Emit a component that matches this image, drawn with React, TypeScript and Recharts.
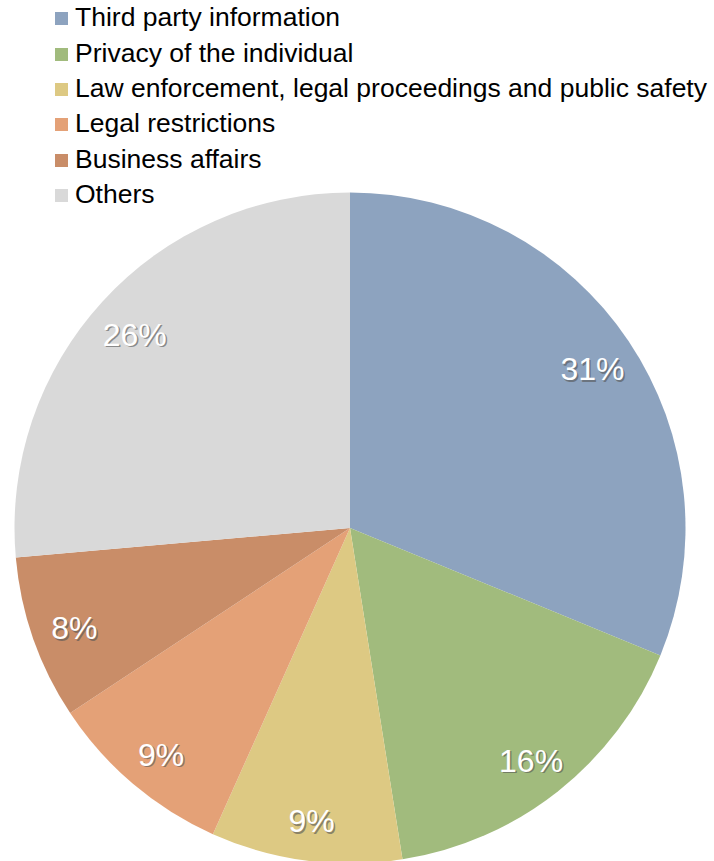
import { Cell, Pie, PieChart } from "recharts";

const categories = [
    "Third party information",
    "Privacy of the individual",
    "Law enforcement, legal proceedings and public safety",
    "Legal restrictions",
    "Business affairs",
    "Others",
];
const shares = [31.2, 16.3, 9.2, 9.0, 7.9, 26.4];
const COLORS = ["#8DA3BF", "#A1BB7D", "#DDC983", "#E4A177", "#C98D68", "#D9D9D9"];

const data = categories.map((name, i) => ({ name, value: shares[i] }));

const RAD = Math.PI / 180;
const FONT = "Liberation Sans, Arial, sans-serif";

const renderLabel = (props: any) => {
    const { cx, cy, midAngle, outerRadius, percent } = props;
    const r = outerRadius * 0.87;
    const x = cx + r * Math.cos(-midAngle * RAD);
    const y = cy + r * Math.sin(-midAngle * RAD) + 4;
    const text = `${Math.round(percent * 100)}%`;
    const common = {
        textAnchor: "middle" as const,
        dominantBaseline: "central" as const,
        fontSize: 32,
        fontFamily: FONT,
    };
    return (
        <g>
            <text x={x + 1.5} y={y + 1.5} fill="#555" opacity={0.6} {...common}>{text}</text>
            <text x={x} y={y} fill="#fff" {...common}>{text}</text>
        </g>
    );
};

const LegendBox = () => (
    <div style={{ position: "absolute", top: 0, left: 55, fontFamily: FONT, fontSize: 26.5, color: "#000" }}>
        {categories.map((name, i) => (
            <div key={name} style={{ display: "flex", alignItems: "center", height: 35.4, whiteSpace: "nowrap" }}>
                <span style={{ width: 13, height: 13, background: COLORS[i], marginRight: 7, marginTop: 2 }} />
                <span>{name}</span>
            </div>
        ))}
    </div>
);

export default function App() {
    return (
        <div style={{ position: "absolute", left: 0, top: 0, width: 714, height: 861 }}>
            <PieChart width={714} height={861} margin={{ top: 0, right: 0, bottom: 0, left: 0 }}>
                <Pie
                    data={data}
                    dataKey="value"
                    nameKey="name"
                    cx={350}
                    cy={528}
                    outerRadius={335.5}
                    startAngle={90}
                    endAngle={-270}
                    stroke="none"
                    label={renderLabel}
                    labelLine={false}
                    isAnimationActive={false}
                >
                    {data.map((_, i) => (
                        <Cell key={i} fill={COLORS[i]} />
                    ))}
                </Pie>
            </PieChart>
            <LegendBox />
        </div>
    );
}
